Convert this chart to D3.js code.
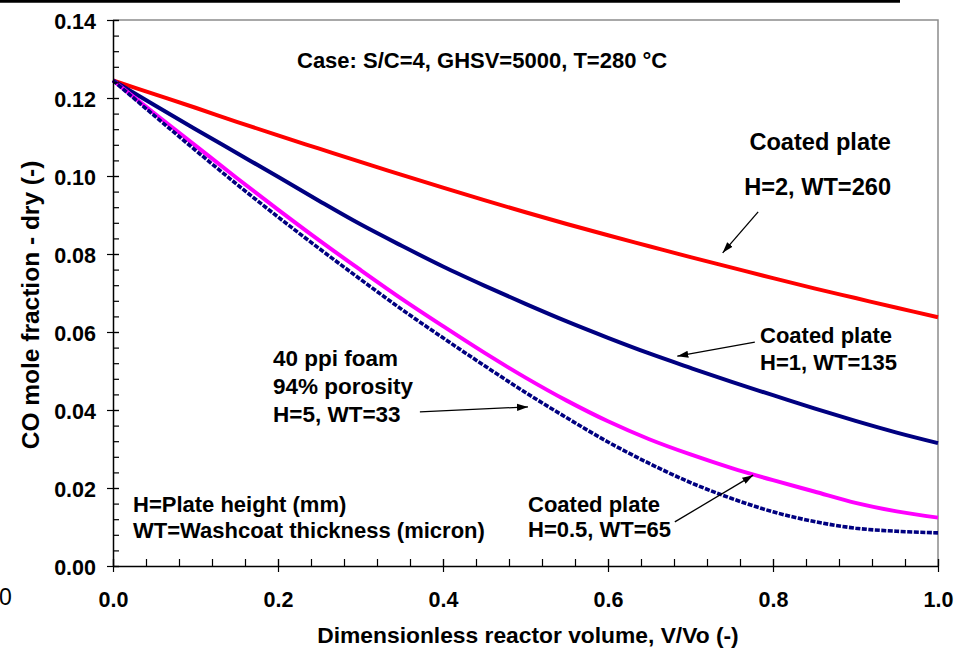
<!DOCTYPE html>
<html>
<head>
<meta charset="utf-8">
<script src="https://cdn.jsdelivr.net/npm/d3@7"></script>
<style>
  html, body { margin: 0; padding: 0; background: #fff; }
  svg { display: block; }
  text { font-family: "Liberation Sans", Arial, Helvetica, sans-serif; font-weight: bold; fill: #000; }
</style>
</head>
<body>
<svg id="chart" width="955" height="649"></svg>
<script>
// Dimensionless reactor volume V/Vo
const volume = [0, 0.05, 0.1, 0.15, 0.2, 0.25, 0.3, 0.35, 0.4, 0.45, 0.5,
                0.55, 0.6, 0.65, 0.7, 0.75, 0.8, 0.85, 0.9, 0.95, 1.0];

// CO mole fraction (dry) along the reactor for each configuration
const plateH2 = [0.1245, 0.1210, 0.1175, 0.1139, 0.1104, 0.1070, 0.1036, 0.1003, 0.0970, 0.0938, 0.0907,
                 0.0877, 0.0848, 0.0820, 0.0792, 0.0765, 0.0738, 0.0712, 0.0687, 0.0662, 0.0638];
const plateH1 = [0.1245, 0.1182, 0.1120, 0.1059, 0.0998, 0.0936, 0.0876, 0.0821, 0.0768, 0.0719, 0.0672,
                 0.0627, 0.0585, 0.0545, 0.0508, 0.0472, 0.0438, 0.0404, 0.0372, 0.0342, 0.0315];
const plateH05 = [0.1245, 0.1161, 0.1078, 0.0995, 0.0914, 0.0835, 0.0759, 0.0685, 0.0615, 0.0547, 0.0483,
                  0.0424, 0.0371, 0.0325, 0.0286, 0.0251, 0.0220, 0.0191, 0.0162, 0.0140, 0.0124];
const foamH5 = [0.1245, 0.1155, 0.1066, 0.0979, 0.0895, 0.0814, 0.0735, 0.0658, 0.0585, 0.0514, 0.0445,
                0.0380, 0.0318, 0.0263, 0.0214, 0.0173, 0.0139, 0.0114, 0.0097, 0.0089, 0.0085];

const xMajorTicks = [0, 0.2, 0.4, 0.6, 0.8, 1.0];
const yMajorTicks = [0, 0.02, 0.04, 0.06, 0.08, 0.10, 0.12, 0.14];

const seriesList = [
  { name: "plateH2", values: plateH2, color: "#ff0000", width: 4, dash: null },
  { name: "plateH1", values: plateH1, color: "#000080", width: 4, dash: null },
  { name: "plateH05", values: plateH05, color: "#ff00ff", width: 4, dash: null },
  { name: "foamH5", values: foamH5, color: "#000080", width: 3.6, dash: "5,1.5" }
];

const svg = d3.select("#chart");

const x = d3.scaleLinear().domain([0, 1]).range([113, 938]);
const y = d3.scaleLinear().domain([0, 0.14]).range([566, 20]);

// rule across the top of the figure
svg.append("line")
  .attr("x1", 0).attr("x2", 900).attr("y1", 1.2).attr("y2", 1.2)
  .attr("stroke", "#000").attr("stroke-width", 3);

// grey frame on the top and right of the plot area
svg.append("path")
  .attr("d", `M${x(0)},${y(0.14)}H${x(1)}V${y(0)}`)
  .attr("fill", "none").attr("stroke", "#8c8c8c").attr("stroke-width", 1.5);

// curves
const line = d3.line()
  .x((d, i) => x(volume[i]))
  .y(d => y(d))
  .curve(d3.curveCatmullRom.alpha(0.5));

svg.append("g").selectAll("path")
  .data(seriesList)
  .join("path")
  .attr("d", s => line(s.values))
  .attr("fill", "none")
  .attr("stroke", s => s.color)
  .attr("stroke-width", s => s.width)
  .attr("stroke-dasharray", s => s.dash)
  .attr("stroke-linejoin", "round");

// x axis: minor ticks inside, major ticks crossing
const xMinor = d3.range(0, 1.0001, 0.04);
svg.append("g")
  .attr("transform", `translate(0,${y(0)})`)
  .call(d3.axisBottom(x).tickValues(xMinor).tickSize(-7).tickSizeOuter(0).tickFormat(""))
  .call(g => g.select(".domain").attr("stroke", "#000").attr("stroke-width", 1.5))
  .call(g => g.selectAll(".tick line").attr("stroke", "#000").attr("stroke-width", 1.2));

svg.append("g")
  .attr("transform", `translate(0,${y(0)})`)
  .call(d3.axisBottom(x).tickValues(xMajorTicks).tickSizeOuter(0).tickFormat(d3.format(".1f")))
  .call(g => g.select(".domain").remove())
  .call(g => g.selectAll(".tick line").attr("y1", -7).attr("y2", 6).attr("stroke", "#000").attr("stroke-width", 1.2))
  .call(g => g.selectAll(".tick text")
    .attr("y", 41).attr("dy", null)
    .attr("font-size", "21.5px")
    .attr("font-family", null));

// y axis
const yMinor = d3.range(0, 0.14001, 0.004);
svg.append("g")
  .attr("transform", `translate(${x(0)},0)`)
  .call(d3.axisLeft(y).tickValues(yMinor).tickSize(-6).tickSizeOuter(0).tickFormat(""))
  .call(g => g.select(".domain").attr("stroke", "#000").attr("stroke-width", 1.5))
  .call(g => g.selectAll(".tick line").attr("stroke", "#000").attr("stroke-width", 1.2));

svg.append("g")
  .attr("transform", `translate(${x(0)},0)`)
  .call(d3.axisLeft(y).tickValues(yMajorTicks).tickSizeOuter(0).tickFormat(d3.format(".2f")))
  .call(g => g.select(".domain").remove())
  .call(g => g.selectAll(".tick line").attr("x1", 6).attr("x2", -6).attr("stroke", "#000").attr("stroke-width", 1.2))
  .call(g => g.selectAll(".tick text")
    .attr("x", -17).attr("y", 8).attr("dy", null)
    .attr("font-size", "21.5px")
    .attr("font-family", null));

// axis titles
svg.append("text")
  .attr("transform", "translate(39,305) rotate(-90)")
  .attr("text-anchor", "middle")
  .attr("font-size", "24.5px")
  .text("CO mole fraction - dry (-)");

svg.append("text")
  .attr("x", 528).attr("y", 643)
  .attr("text-anchor", "middle")
  .attr("font-size", "22.8px")
  .text("Dimensionless reactor volume, V/Vo (-)");

// lone zero at the left margin, regular weight
svg.append("text")
  .attr("x", -1).attr("y", 605)
  .attr("text-anchor", "start")
  .attr("font-size", "23px")
  .style("font-weight", "normal")
  .text("0");

// annotations
const notes = [
  { x: 297, y: 68, size: 22, anchor: "start", lines: ["Case: S/C=4, GHSV=5000, T=280 °C"], lh: 0 },
  { x: 891, y: 150, size: 23.6, anchor: "end", lines: ["Coated plate", "H=2, WT=260"], lh: 45 },
  { x: 760, y: 343, size: 22, anchor: "start", lines: ["Coated plate", "H=1, WT=135"], lh: 27 },
  { x: 273, y: 366, size: 22.5, anchor: "start", lines: ["40 ppi foam", "94% porosity", "H=5, WT=33"], lh: 28 },
  { x: 528, y: 512, size: 22, anchor: "start", lines: ["Coated plate", "H=0.5, WT=65"], lh: 25 },
  { x: 133, y: 512, size: 22, anchor: "start", lines: ["H=Plate height (mm)", "WT=Washcoat thickness (micron)"], lh: 26 }
];

notes.forEach(n => {
  const t = svg.append("text")
    .attr("font-size", n.size + "px")
    .attr("text-anchor", n.anchor);
  n.lines.forEach((s, i) => {
    t.append("tspan").attr("x", n.x).attr("y", n.y + i * n.lh).text(s);
  });
});

// leader arrows, given in data coordinates (tail -> head)
const arrows = [
  { from: [0.782, 0.0908], to: [0.739, 0.0803] },
  { from: [0.778, 0.0574], to: [0.684, 0.0538] },
  { from: [0.372, 0.0395], to: [0.503, 0.0408] },
  { from: [0.681, 0.0113], to: [0.776, 0.0233] }
];

svg.append("defs").append("marker")
  .attr("id", "head")
  .attr("viewBox", "0 -4 11 8")
  .attr("refX", 11).attr("refY", 0)
  .attr("markerUnits", "userSpaceOnUse")
  .attr("markerWidth", 11).attr("markerHeight", 8)
  .attr("orient", "auto")
  .append("path")
  .attr("d", "M0,-3.6L11,0L0,3.6Z")
  .attr("fill", "#000");

svg.append("g").selectAll("line")
  .data(arrows)
  .join("line")
  .attr("x1", d => x(d.from[0])).attr("y1", d => y(d.from[1]))
  .attr("x2", d => x(d.to[0])).attr("y2", d => y(d.to[1]))
  .attr("stroke", "#000").attr("stroke-width", 1.3)
  .attr("marker-end", "url(#head)");
</script>
</body>
</html>
